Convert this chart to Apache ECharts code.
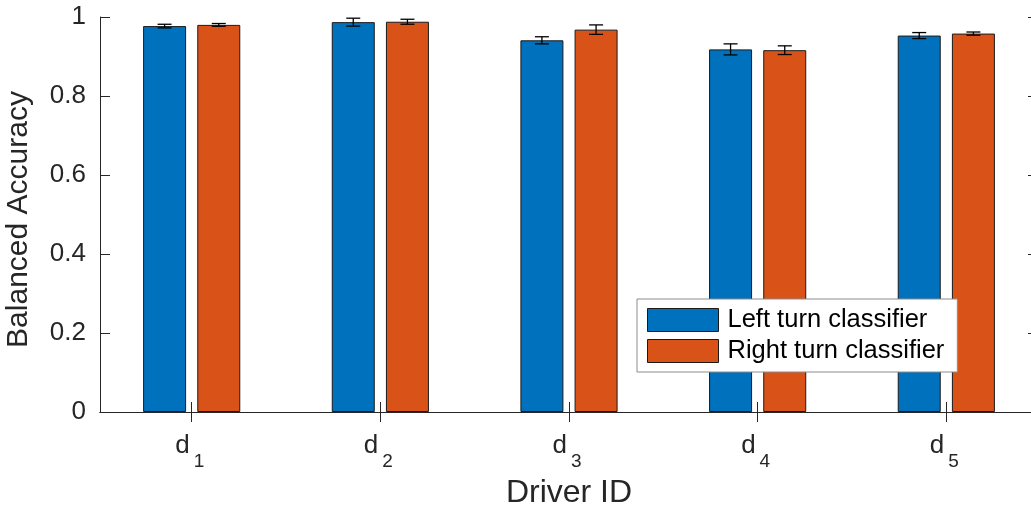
<!DOCTYPE html>
<html>
<head>
<meta charset="utf-8">
<script src="https://cdn.jsdelivr.net/npm/echarts@6/dist/echarts.min.js"></script>
<style>html,body{margin:0;padding:0;background:#fff;}#chart{width:1031px;height:510px;}</style>
</head>
<body>
<div id="chart"></div>
<script>
// ---- data ----
var driverIndex = [1, 2, 3, 4, 5];
var driverSub = ['1', '2', '3', '4', '5'];
var leftAcc = [0.977, 0.987, 0.941, 0.918, 0.953];
var leftErr = [0.0046, 0.010, 0.009, 0.014, 0.0076];
var rightAcc = [0.980, 0.988, 0.968, 0.916, 0.958];
var rightErr = [0.0035, 0.0063, 0.012, 0.011, 0.004];
var yTicks = [0, 0.2, 0.4, 0.6, 0.8, 1];
var seriesNames = ['Left turn classifier', 'Right turn classifier'];

// ---- style ----
var BLUE = '#0072BD', ORANGE = '#D95319', AX = '#262626';
var BAR_W = 43, BAR_GAP = 0.26;
var halfStep = (BAR_W * (1 + BAR_GAP)) / 2;
var FONT = '"Liberation Sans", Arial, Helvetica, sans-serif';

var chart = echarts.init(document.getElementById('chart'), null, {renderer: 'canvas'});

function barData(vals) { return driverIndex.map(function (x, i) { return [x, vals[i]]; }); }
function errData(vals, errs) { return driverIndex.map(function (x, i) { return [x, vals[i] - errs[i], vals[i] + errs[i]]; }); }

function errRender(shift) {
  return function (params, api) {
    var x = api.value(0);
    var lo = api.coord([x, api.value(1)]);
    var hi = api.coord([x, api.value(2)]);
    var cx = lo[0] + shift;
    var cap = 7;
    var st = {stroke: '#000', lineWidth: 1.3};
    return {type: 'group', children: [
      {type: 'line', shape: {x1: cx, y1: lo[1], x2: cx, y2: hi[1]}, style: st},
      {type: 'line', shape: {x1: cx - cap, y1: lo[1], x2: cx + cap, y2: lo[1]}, style: st},
      {type: 'line', shape: {x1: cx - cap, y1: hi[1], x2: cx + cap, y2: hi[1]}, style: st}
    ]};
  };
}

var subMap = {};
driverIndex.forEach(function (v, i) { subMap[v] = driverSub[i]; });

var option = {
  animation: false,
  backgroundColor: '#fff',
  textStyle: {fontFamily: FONT},
  grid: {left: 100, top: 17, right: -7, bottom: 98, containLabel: false, outerBoundsMode: 'none'},
  legend: {
    orient: 'vertical', left: 637, top: 299,
    padding: [8, 13, 8, 10], itemGap: 5, itemWidth: 71, itemHeight: 23,
    borderColor: '#8c8c8c', borderWidth: 1, backgroundColor: '#fff',
    icon: 'rect',
    itemStyle: {borderColor: '#1a1a1a', borderWidth: 1},
    textStyle: {fontSize: 25.5, lineHeight: 23, color: '#000', fontFamily: FONT, padding: [0, 0, 0, 4]},
    data: seriesNames
  },
  xAxis: [{
    type: 'value', min: 0.514, max: 5.486,
    name: 'Driver ID', nameLocation: 'middle', nameGap: 65,
    nameTextStyle: {fontSize: 32, color: AX, fontFamily: FONT},
    axisLine: {show: true, lineStyle: {color: AX, width: 1}},
    axisTick: {show: true, inside: true, length: 10, lineStyle: {color: AX}, customValues: driverIndex},
    axisLabel: {
      show: true, margin: 21, color: AX, customValues: driverIndex,
      formatter: function (v) { return '{d|d}{s|' + subMap[v] + '}'; },
      rich: {
        d: {fontSize: 26, color: AX, fontFamily: FONT, padding: [0, 0, 16, 0]},
        s: {fontSize: 19, color: AX, fontFamily: FONT, padding: [16, 4, 0, 4]}
      }
    },
    splitLine: {show: false}
  }, {
    type: 'value', min: 0.514, max: 5.486, position: 'top',
    axisLine: {show: true, lineStyle: {color: AX, width: 1}},
    axisTick: {show: true, inside: true, length: 10, lineStyle: {color: AX}, customValues: driverIndex},
    axisLabel: {show: false},
    splitLine: {show: false}
  }],
  yAxis: [{
    type: 'value', min: 0, max: 1, interval: 0.2,
    name: 'Balanced Accuracy', nameLocation: 'middle', nameGap: 66, nameRotate: 90,
    nameTextStyle: {fontSize: 30, color: AX, fontFamily: FONT, padding: [0, 10, 0, 0]},
    axisLine: {show: true, lineStyle: {color: AX, width: 1}},
    axisTick: {show: true, inside: true, length: 10, lineStyle: {color: AX}},
    axisLabel: {fontSize: 26, color: AX, margin: 14, fontFamily: FONT,
      formatter: function (v) { return String(Math.round(v * 10) / 10); }},
    splitLine: {show: false}
  }, {
    type: 'value', min: 0, max: 1, interval: 0.2, position: 'right',
    axisLine: {show: true, lineStyle: {color: AX, width: 1}},
    axisTick: {show: true, inside: true, length: 10, lineStyle: {color: AX}},
    axisLabel: {show: false},
    splitLine: {show: false}
  }],
  series: [{
    name: seriesNames[0], type: 'bar', xAxisIndex: 0, yAxisIndex: 0,
    data: barData(leftAcc), barWidth: BAR_W, barGap: (BAR_GAP * 100) + '%',
    itemStyle: {color: BLUE, borderColor: '#1a1a1a', borderWidth: 1}
  }, {
    name: seriesNames[1], type: 'bar', xAxisIndex: 0, yAxisIndex: 0,
    data: barData(rightAcc), barWidth: BAR_W,
    itemStyle: {color: ORANGE, borderColor: '#1a1a1a', borderWidth: 1}
  }, {
    type: 'custom', xAxisIndex: 0, yAxisIndex: 0, z: 5,
    renderItem: errRender(-halfStep), data: errData(leftAcc, leftErr)
  }, {
    type: 'custom', xAxisIndex: 0, yAxisIndex: 0, z: 5,
    renderItem: errRender(halfStep), data: errData(rightAcc, rightErr)
  }]
};
chart.setOption(option);
</script>
</body>
</html>
